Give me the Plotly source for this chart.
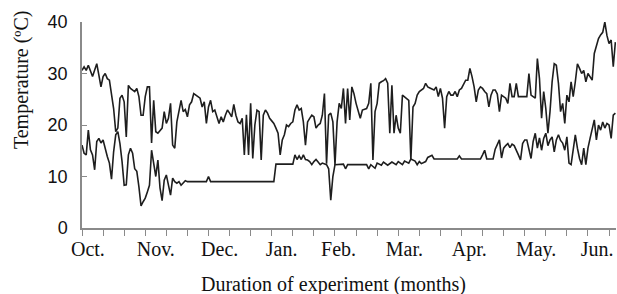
import plotly.graph_objects as go

# Days since start of experiment (1 Oct) and daily temperatures (ºC)
days_max = [0,1,2,3,5,6,7,8,9,10,11,12,13,15,16,17,18,19,20,21,22,23,24,25,26,27,28,29,30,31,32,33,34,35,36,38,39,40,41,42,43,44,45,46,47,48,49,50,51,52,53,55,56,57,58,59,60,61,62,63,65,66,67,68,69,70,71,72,73,74,75,76,77,78,79,80,81,82,83,84,85,86,87,88,89,90,91,92,93,94,95,96,97,98,99,100,101,102,103,104,105,106,107,108,109,110,111,112,113,114,115,116,117,118,119,120,121,122,123,124,125,126,127,128,129,130,131,132,133,134,135,136,137,138,139,140,141,142,143,144,145,146,147,148,149,150,151,152,153,154,155,156,157,158,159,160,161,162,163,164,165,166,167,168,169,170,171,172,173,174,175,176,177,178,179,180,181,182,183,184,185,186,187,188,189,190,191,192,193,194,195,196,197,198,199,200,201,202,203,204,205,206,207,208,209,210,211,212,213,214,215,216,217,218,219,220,221,222,223,224,225,226,227,228,229,230,231,232,233,234,235,236,237,238,239,240,241,242,243,244,245,246,247,248,249,250,251,252,253]
temp_max = [30.6,31.3,30.6,31.6,29.4,30.6,31.9,29.7,27.4,29.4,30.0,29.0,28.7,23.2,18.7,19.4,25.2,25.8,24.5,17.7,27.7,27.1,26.8,26.5,27.1,25.5,21.9,21.9,25.5,27.4,27.4,16.5,24.8,18.7,18.4,19.4,22.6,20.3,21.3,24.2,16.1,15.5,20.6,22.6,24.8,22.6,23.0,21.6,23.9,24.5,26.1,25.5,25.2,23.5,24.5,20.3,23.5,24.8,22.6,22.9,20.3,21.6,20.6,21.9,22.9,22.3,21.6,24.0,21.9,20.6,20.3,21.3,14.2,22.0,14.2,24.2,13.5,20.0,22.9,22.6,13.2,21.9,22.9,22.3,21.3,20.8,20.3,19.4,18.4,14.2,17.1,18.1,20.0,19.7,20.3,20.6,22.9,23.9,22.9,23.2,20.6,16.1,20.6,21.3,21.9,21.6,19.4,20.0,20.3,21.9,26.1,12.5,21.9,22.3,20.6,12.3,20.6,24.2,23.2,27.1,20.3,27.1,21.0,27.4,26.1,24.2,22.6,21.3,22.9,23.0,23.2,24.2,28.1,13.2,22.6,24.2,28.1,28.4,28.6,29.0,28.1,18.4,27.7,18.4,21.9,19.4,18.4,25.8,25.5,25.2,24.8,13.2,23.5,24.2,25.8,26.5,26.8,27.1,28.1,27.4,27.2,27.0,26.8,27.4,25.5,27.1,25.2,19.4,25.5,26.5,25.8,25.8,26.5,25.5,26.8,27.1,28.0,28.7,28.7,31.0,29.4,27.4,24.5,26.8,27.4,27.1,26.5,26.1,23.5,25.8,26.8,26.8,26.0,22.6,25.8,25.5,25.2,24.2,28.1,25.5,25.5,28.1,25.5,25.5,25.5,25.5,25.5,30.0,25.8,25.5,25.2,32.9,29.0,21.3,26.5,23.2,18.4,22.6,28.4,31.9,31.6,28.1,22.6,24.2,20.3,25.8,24.5,28.4,25.5,28.4,31.9,31.0,30.0,30.6,28.4,30.0,29.4,28.7,33.9,35.5,36.8,37.5,38.0,40.0,37.4,35.8,36.5,31.3,36.1]

days_min = [0,1,2,3,4,5,6,7,8,9,10,11,12,13,14,15,16,17,18,19,20,21,22,23,24,25,26,27,28,29,30,31,32,33,34,35,36,37,38,39,40,41,42,43,44,45,46,47,48,49,50,59,60,61,91,92,100,101,102,103,104,105,106,107,108,109,110,111,112,113,114,116,117,118,119,120,124,125,126,135,136,137,139,140,142,143,145,147,149,150,152,153,155,156,158,159,160,161,163,164,166,167,178,179,180,189,190,191,192,195,196,198,199,200,201,202,203,204,205,206,207,208,209,210,211,212,213,214,215,216,217,218,219,220,221,222,223,224,225,226,227,228,229,230,231,232,233,234,235,236,237,238,239,240,241,242,243,244,245,246,247,248,249,250,251,252,253]
temp_min = [16.1,14.5,14.2,19.0,15.2,14.2,11.3,16.8,17.4,16.5,17.1,15.2,13.9,12.6,9.5,14.8,18.1,18.7,16.4,12.9,8.3,8.4,14.2,15.5,14.5,11.5,11.0,8.0,4.3,5.1,5.8,7.0,8.3,15.1,12.0,10.0,13.2,7.8,5.3,9.3,10.3,8.0,6.4,9.7,9.0,8.7,9.0,8.3,8.7,9.2,9.0,9.0,10.0,9.0,9.0,12.4,12.4,14.2,13.3,14.0,13.3,14.2,13.3,13.2,12.9,12.3,12.9,13.3,12.8,12.3,12.6,12.3,11.5,5.4,10.0,12.3,12.4,11.5,12.3,12.3,11.5,12.3,11.6,12.6,12.2,12.8,12.2,12.8,12.3,12.9,12.3,13.0,12.6,13.4,13.0,12.3,12.9,12.5,12.9,13.7,14.1,13.4,13.4,14.0,13.4,13.4,14.2,15.1,13.4,13.4,15.3,17.1,13.6,15.5,16.0,16.4,15.6,16.3,16.0,14.9,14.2,13.2,16.4,17.1,17.1,15.3,13.5,16.8,18.4,15.5,17.5,15.1,17.4,18.4,16.0,17.1,17.7,14.8,17.1,18.1,17.0,16.5,15.1,17.7,12.6,12.3,15.5,18.1,15.5,13.5,12.3,15.5,12.3,15.5,17.4,19.0,21.0,17.1,20.0,19.0,20.6,19.4,20.3,20.0,17.4,21.9,22.3]

month_pos = [2.8, 35, 65.3, 94.7, 121.7, 152.9, 183.7, 215.4, 244.3]
month_labels = ["Oct.", "Nov.", "Dec.", "Jan.", "Feb.", "Mar.", "Apr.", "May.", "Jun."]
y_ticks = [0, 10, 20, 30, 40]

line_color = "#1e1e1e"
axis_color = "#8a8a8a"
serif = "Liberation Serif, Times New Roman, serif"
sans = "Liberation Sans, Arial, sans-serif"

fig = go.Figure()
fig.add_trace(go.Scatter(x=days_max, y=temp_max, mode="lines",
                         line=dict(color=line_color, width=1.6), showlegend=False))
fig.add_trace(go.Scatter(x=days_min, y=temp_min, mode="lines",
                         line=dict(color=line_color, width=1.6), showlegend=False))

fig.update_layout(
    width=617, height=294,
    margin=dict(l=82, r=1, t=22, b=66),
    paper_bgcolor="white", plot_bgcolor="white",
    xaxis=dict(
        range=[0, 253.3], showgrid=False, zeroline=False,
        showline=True, linecolor=axis_color, linewidth=1.5,
        tickmode="array", tickvals=month_pos, ticktext=month_labels,
        ticks="outside", ticklen=2, tickcolor="rgba(0,0,0,0)",
        tickfont=dict(family=serif, size=20, color="#111"),
        minor=dict(tick0=0, dtick=10, ticks="outside", ticklen=6,
                   tickcolor=axis_color, tickwidth=1.2, showgrid=False),
    ),
    yaxis=dict(
        range=[0, 40], showgrid=False, zeroline=False,
        showline=True, linecolor=axis_color, linewidth=1.5,
        tickmode="array", tickvals=y_ticks,
        ticks="inside", ticklen=5, tickcolor=axis_color, tickwidth=1.2,
        ticklabelstandoff=9,
        tickfont=dict(family=sans, size=18, color="#111"),
    ),
    annotations=[
        dict(text="Duration of experiment (months)", xref="paper", yref="paper",
             x=0.4708, y=0, yshift=-56, showarrow=False, xanchor="center", yanchor="middle",
             font=dict(family=serif, size=20, color="#111")),
        dict(text="Temperature (ºC)", xref="paper", yref="paper",
             x=0, xshift=-61, y=0.718, textangle=-90, showarrow=False,
             xanchor="center", yanchor="middle",
             font=dict(family=serif, size=20, color="#111")),
    ],
)

# Remove the default page margin so the 617x294 figure fills the window exactly.
fig.write_html("out.html",
               config={"displayModeBar": False},
               post_script="document.body.style.margin='0';document.body.style.overflow='hidden';")
